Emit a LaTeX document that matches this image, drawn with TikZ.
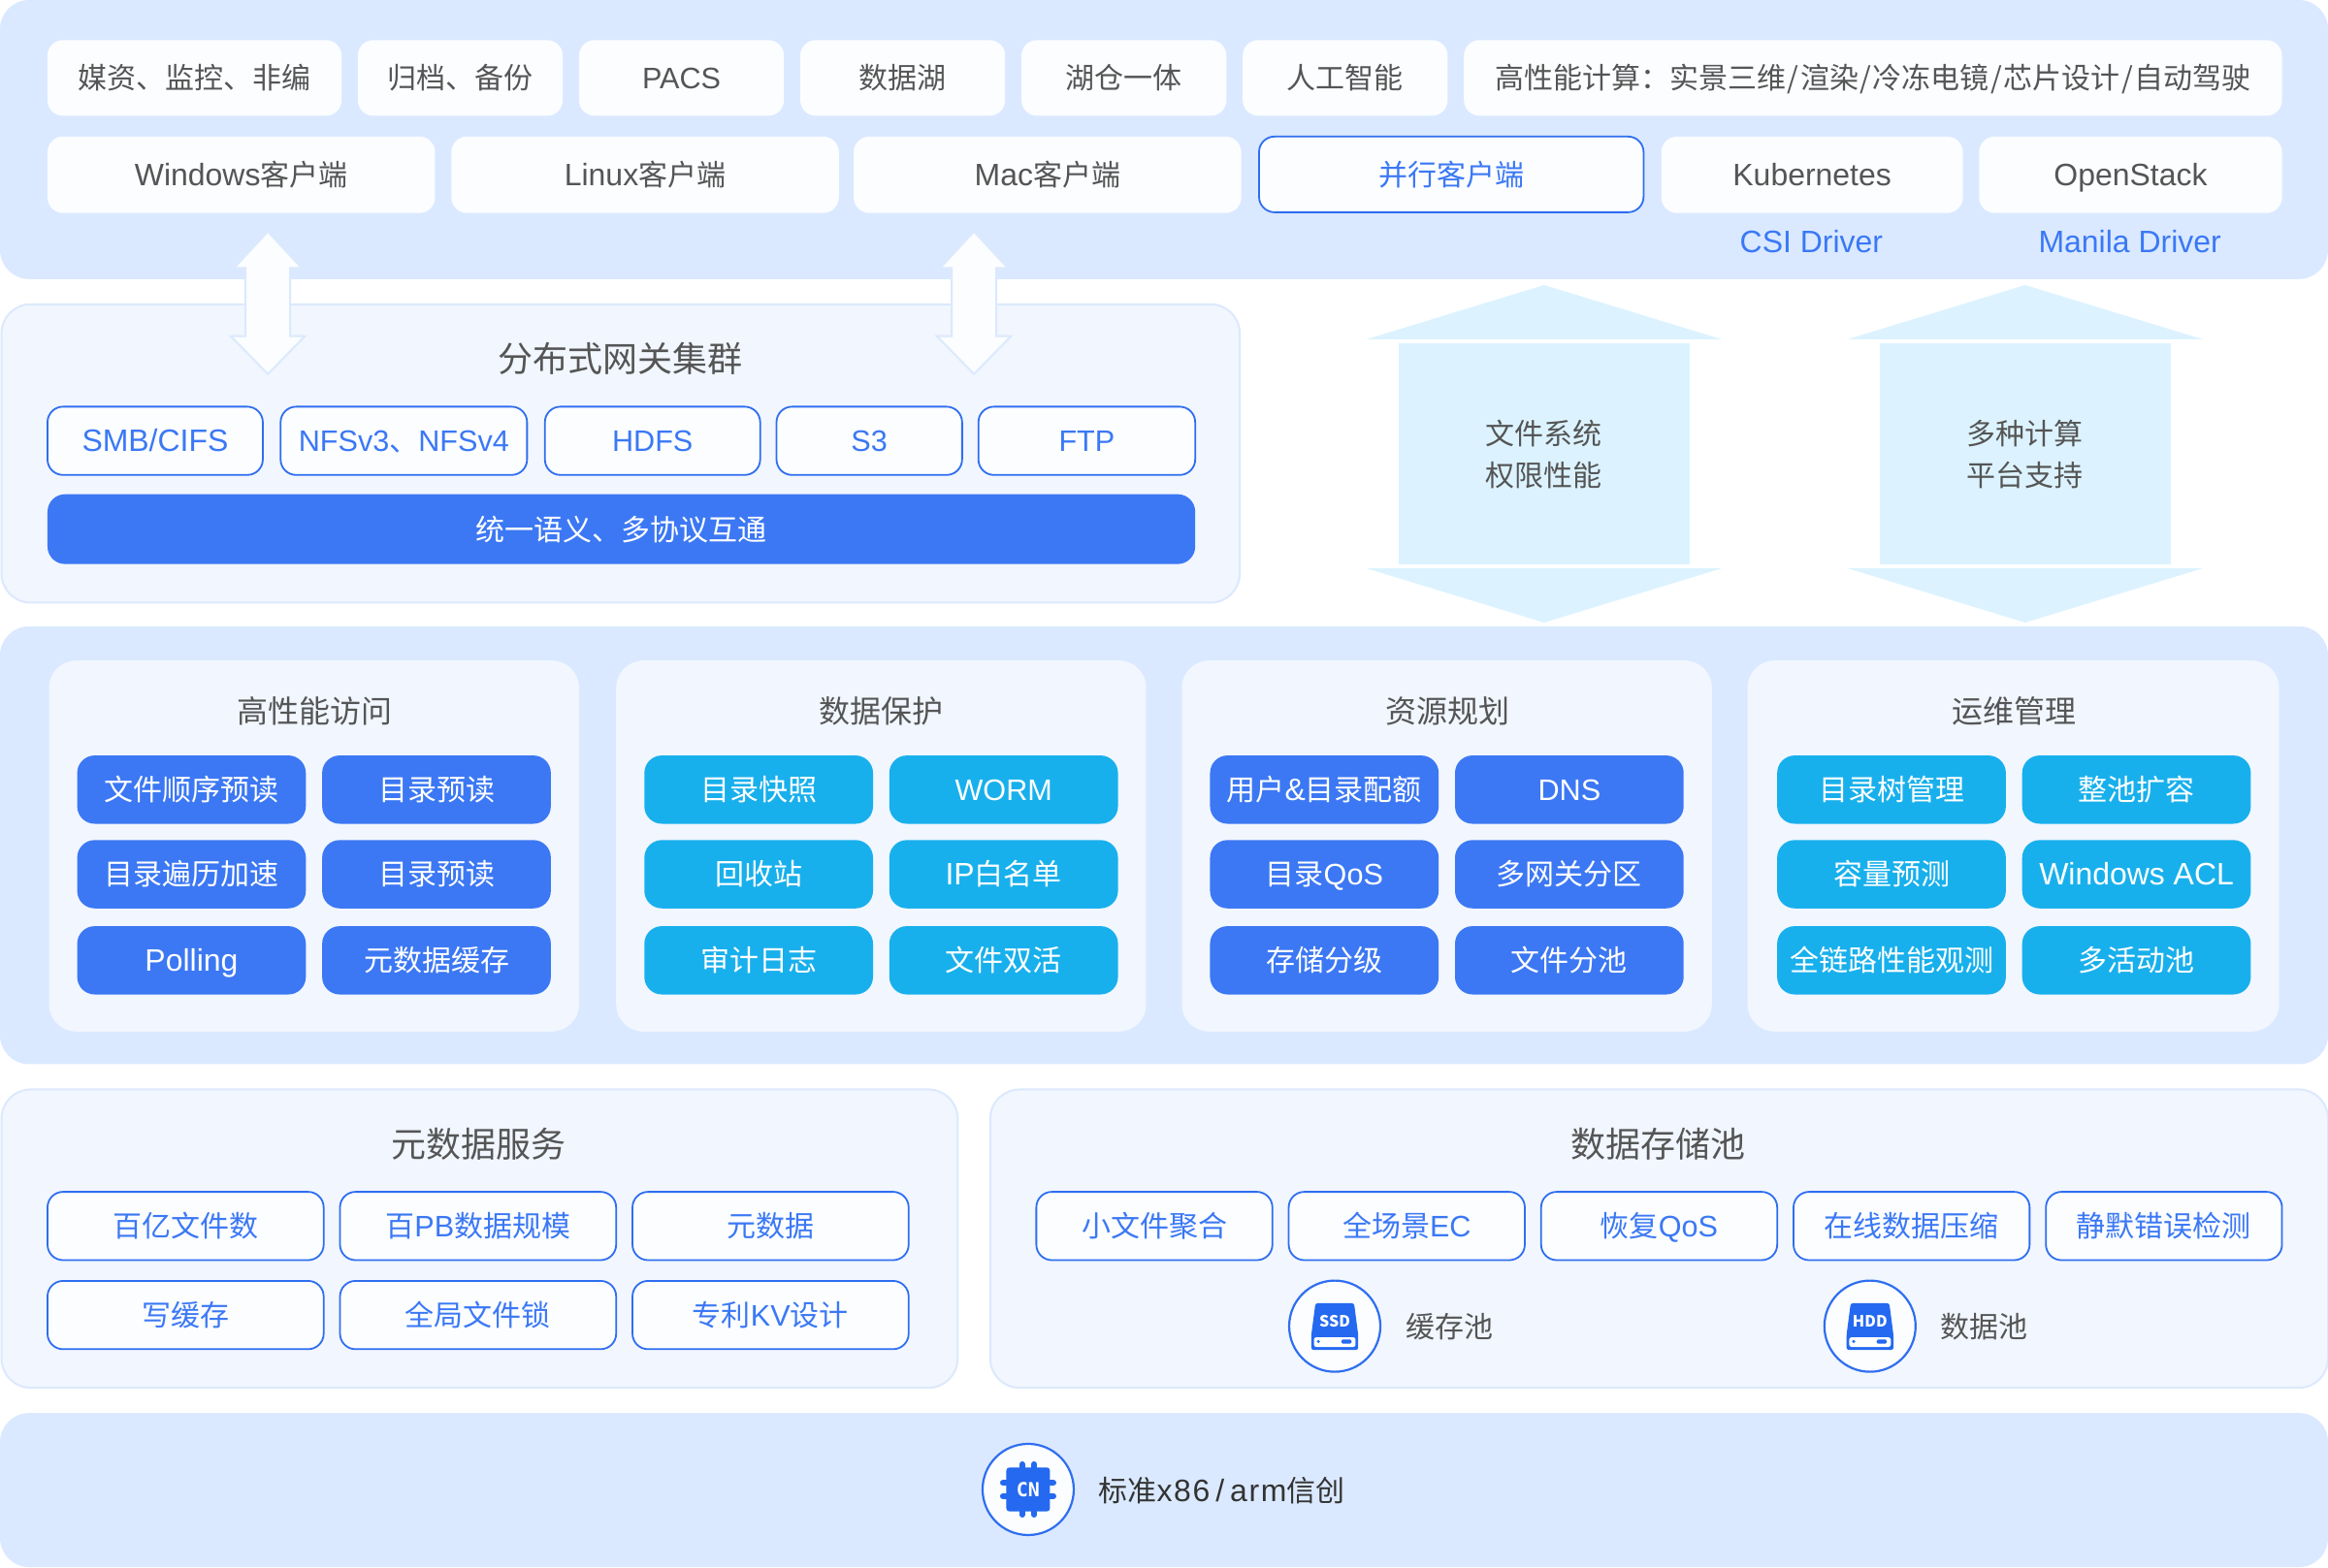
\documentclass[tikz,border=0pt]{standalone}
\usepackage{fontspec}
\setmainfont{Noto Sans CJK SC}
\newfontfamily\latfont[Scale=1.065]{Liberation Sans}
\newfontfamily\capfont[Scale=1.02]{Liberation Sans}
\newfontfamily\latwide[Scale=1.065,LetterSpace=5]{Liberation Sans}
\newfontfamily\cnfont{DejaVu Sans Mono}
\newcommand{\la}[1]{{\latfont #1}}
\newcommand{\lc}[1]{{\capfont #1}}
\newcommand{\slashgap}{\kern0.75pt/\kern0.75pt}
\usetikzlibrary{calc}
\definecolor{panelbg}{HTML}{DAE9FF}
\definecolor{lightbg}{HTML}{F1F6FF}
\definecolor{paleline}{HTML}{DCE9FD}
\definecolor{mainblue}{HTML}{3C78F4}
\definecolor{linkblue}{HTML}{3B78F5}
\definecolor{edgeblue}{HTML}{2F6EF0}
\definecolor{iconblue}{HTML}{2469F0}
\definecolor{skyblue}{HTML}{18B0EC}
\definecolor{palesky}{HTML}{DCF3FF}
\definecolor{graytext}{HTML}{555555}
\definecolor{darktext}{HTML}{333333}
\definecolor{softwhite}{HTML}{FBFDFF}
\def\U{0.76531}
\newcommand{\bx}[7]{%
  \pgfmathsetmacro\bxW{(#5-#3)*\U}\pgfmathsetmacro\bxH{(#6-#4)*\U}%
  \pgfmathsetmacro\bxX{(#3+#5)/2}\pgfmathsetmacro\bxY{(#4+#6)/2}%
  \node[#2,minimum width=\bxW pt,minimum height=\bxH pt] (#1) at (\bxX,\bxY) {#7};}
\newcommand{\fs}[1]{\fontsize{#1}{#1}\selectfont}
\tikzset{
  x=0.76531pt,y=-0.76531pt,
  box/.style={rectangle,inner sep=0pt,outer sep=0pt,align=center,font=\fs{15},text height=13.2pt,text depth=1.8pt},
  panel/.style={box,fill=panelbg,rounded corners=15pt},
  softpanel/.style={box,fill=lightbg,draw=paleline,line width=1pt,rounded corners=15pt},
  card/.style={box,fill=lightbg,rounded corners=14pt},
  whitebox/.style={box,fill=softwhite,text=graytext,rounded corners=8pt},
  linebox/.style={box,fill=softwhite,draw=edgeblue,line width=0.9pt,text=linkblue,rounded corners=8pt},
  bluebtn/.style={box,fill=mainblue,text=white,rounded corners=9pt},
  skybtn/.style={box,fill=skyblue,text=white,rounded corners=9pt},
  title/.style={inner sep=0pt,outer sep=0pt,text=graytext,font=\fs{18}},
  cardtitle/.style={inner sep=0pt,outer sep=0pt,text=graytext,font=\fs{16}},
  label/.style={inner sep=0pt,outer sep=0pt,font=\fs{15},text height=13.2pt,text depth=1.8pt},
  bodyarrow/.style={rectangle,inner sep=0pt,outer sep=0pt,fill=palesky,text=graytext,align=center,font=\fontsize{15}{21.4}\selectfont},
  arrowhead/.style={fill=palesky},
  whitearrow/.style={fill=softwhite,draw=paleline,line width=1pt,line join=miter},
  iconring/.style={circle,fill=softwhite,draw=edgeblue,line width=1.1pt,inner sep=0pt,outer sep=0pt,minimum size=47pt},
}
\newcommand{\diskicon}[2]{%
  \begin{scope}[shift={(#1.center)}]
    \fill[iconblue,rounded corners=1.2pt] (-13,-15.5) -- (13,-15.5) -- (15.8,6) -- (15.8,16) -- (-15.8,16) -- (-15.8,6) -- cycle;
    \fill[white,rounded corners=1.2pt] (-14,7.5) rectangle (14,14);
    \fill[iconblue] (-11,10.3) circle[radius=1.1];
    \fill[iconblue,rounded corners=0.7pt] (4.5,9) rectangle (11.3,11.8);
    \node[inner sep=0pt,text=white,font=\fs{8}\bfseries] (#1txt) at (0,-3.5) {#2};
  \end{scope}}
\newcommand{\whitedouble}[1]{%
  \draw[whitearrow,shift={(#1)}] (0,-48) -- (22.7,-23.5) -- (15,-23.5) -- (15,22.5) -- (25,22.5) -- (0,48) -- (-25,22.5) -- (-15,22.5) -- (-15,-23.5) -- (-22.7,-23.5) -- cycle;}
\newcommand{\skyheads}[1]{%
  \fill[arrowhead] ($(#1.center)+(-119.5,-77.3)$) -- ($(#1.center)+(0,-113.8)$) -- ($(#1.center)+(119.5,-77.3)$) -- cycle;
  \fill[arrowhead] ($(#1.center)+(-119.5,77.1)$) -- ($(#1.center)+(0,113.6)$) -- ($(#1.center)+(119.5,77.1)$) -- cycle;}
\begin{document}
\begin{tikzpicture}
\useasboundingbox (0,0) rectangle (1568,1055.8);
\fill[white] (0,0) rectangle (1568,1055.8);

% panels
\bx{toppanel}{panel}{0}{0}{1568}{188}{}
\bx{gwpanel}{softpanel}{1}{205}{835}{406}{}
\bx{midpanel}{panel}{0}{422}{1568}{717}{}
\bx{metapanel}{softpanel}{1}{734}{645}{935}{}
\bx{poolpanel}{softpanel}{667}{734}{1568}{935}{}
\bx{basepanel}{panel}{0}{952}{1568}{1055.8}{}

% top rows
\bx{t1}{whitebox}{32}{27}{230}{78}{媒资、监控、非编}
\bx{t2}{whitebox}{241}{27}{379}{78}{归档、备份}
\bx{t3}{whitebox}{390}{27}{528}{78}{\lc{PACS}}
\bx{t4}{whitebox}{539}{27}{677}{78}{数据湖}
\bx{t5}{whitebox}{688}{27}{826}{78}{湖仓一体}
\bx{t6}{whitebox}{837}{27}{975}{78}{人工智能}
\bx{t7}{whitebox}{986}{27}{1537}{78}{高性能计算：实景三维\slashgap 渲染\slashgap 冷冻电镜\slashgap 芯片设计\slashgap 自动驾驶}
\bx{c1}{whitebox}{32}{92}{293}{143.5}{\la{Windows}客户端}
\bx{c2}{whitebox}{304}{92}{565}{143.5}{\la{Linux}客户端}
\bx{c3}{whitebox}{575}{92}{836}{143.5}{\la{Mac}客户端}
\bx{c4}{linebox}{848}{92}{1107}{143}{并行客户端}
\bx{c5}{whitebox}{1119}{92}{1322}{143.5}{\la{Kubernetes}}
\bx{c6}{whitebox}{1333}{92}{1537}{143.5}{\la{OpenStack}}
\node[label,text=linkblue] (csi) at (1220,163) {\la{CSI Driver}};
\node[label,text=linkblue] (manila) at (1434.5,163) {\la{Manila Driver}};

% gateway
\node[title] (gwtitle) at (418,241.5) {分布式网关集群};
\bx{p1}{linebox}{32}{274}{177}{320}{\la{SMB/CIFS}}
\bx{p2}{linebox}{189}{274}{355}{320}{\lc{NFSv3}、\lc{NFSv4}}
\bx{p3}{linebox}{367}{274}{512}{320}{\lc{HDFS}}
\bx{p4}{linebox}{523}{274}{648}{320}{\lc{S3}}
\bx{p5}{linebox}{659}{274}{805}{320}{\lc{FTP}}
\bx{gwbar}{bluebtn}{32}{333}{805}{380}{统一语义、多协议互通}

% white double arrows
\coordinate (wa1) at (180.4,204);
\coordinate (wa2) at (656,204);
\whitedouble{wa1}
\whitedouble{wa2}

% sky arrows
\bx{fsarrow}{bodyarrow}{942}{231.4}{1138}{380.3}{\begin{tabular}{@{}c@{}}\rule{0pt}{18.2pt}文件系统\\[0pt]权限性能\end{tabular}}
\bx{hparrow}{bodyarrow}{1266}{231.4}{1462}{380.3}{\begin{tabular}{@{}c@{}}\rule{0pt}{18.2pt}多种计算\\[0pt]平台支持\end{tabular}}
\skyheads{fsarrow}
\skyheads{hparrow}

% function cards
\bx{card1}{card}{33}{445}{390}{695}{}
\bx{card2}{card}{415}{445}{772}{695}{}
\bx{card3}{card}{796}{445}{1153}{695}{}
\bx{card4}{card}{1177}{445}{1535}{695}{}
\node[cardtitle] (h1) at (212,479) {高性能访问};
\node[cardtitle] (h2) at (593.5,479) {数据保护};
\node[cardtitle] (h3) at (975,479) {资源规划};
\node[cardtitle] (h4) at (1356.5,479) {运维管理};

\bx{a1}{bluebtn}{52}{509}{206}{555}{文件顺序预读}
\bx{a2}{bluebtn}{217}{509}{371}{555}{目录预读}
\bx{a3}{bluebtn}{52}{566}{206}{612}{目录遍历加速}
\bx{a4}{bluebtn}{217}{566}{371}{612}{目录预读}
\bx{a5}{bluebtn}{52}{624}{206}{670}{\la{Polling}}
\bx{a6}{bluebtn}{217}{624}{371}{670}{元数据缓存}

\bx{b1}{skybtn}{434}{509}{588}{555}{目录快照}
\bx{b2}{skybtn}{599}{509}{753}{555}{\lc{WORM}}
\bx{b3}{skybtn}{434}{566}{588}{612}{回收站}
\bx{b4}{skybtn}{599}{566}{753}{612}{\la{IP}白名单}
\bx{b5}{skybtn}{434}{624}{588}{670}{审计日志}
\bx{b6}{skybtn}{599}{624}{753}{670}{文件双活}

\bx{d1}{bluebtn}{815}{509}{969}{555}{用户\la{\&}目录配额}
\bx{d2}{bluebtn}{980}{509}{1134}{555}{\lc{DNS}}
\bx{d3}{bluebtn}{815}{566}{969}{612}{目录\lc{QoS}}
\bx{d4}{bluebtn}{980}{566}{1134}{612}{多网关分区}
\bx{d5}{bluebtn}{815}{624}{969}{670}{存储分级}
\bx{d6}{bluebtn}{980}{624}{1134}{670}{文件分池}

\bx{e1}{skybtn}{1197}{509}{1351}{555}{目录树管理}
\bx{e2}{skybtn}{1362}{509}{1516}{555}{整池扩容}
\bx{e3}{skybtn}{1197}{566}{1351}{612}{容量预测}
\bx{e4}{skybtn}{1362}{566}{1516}{612}{\la{Windows ACL}}
\bx{e5}{skybtn}{1197}{624}{1351}{670}{全链路性能观测}
\bx{e6}{skybtn}{1362}{624}{1516}{670}{多活动池}

% metadata
\node[title] (mtitle) at (322.5,771) {元数据服务};
\bx{m1}{linebox}{32}{803}{218}{849}{百亿文件数}
\bx{m2}{linebox}{229}{803}{415}{849}{百\lc{PB}数据规模}
\bx{m3}{linebox}{426}{803}{612}{849}{元数据}
\bx{m4}{linebox}{32}{863}{218}{909}{写缓存}
\bx{m5}{linebox}{229}{863}{415}{909}{全局文件锁}
\bx{m6}{linebox}{426}{863}{612}{909}{专利\lc{KV}设计}

% pool
\node[title] (ptitle) at (1117,771) {数据存储池};
\bx{s1}{linebox}{698}{803}{857}{849}{小文件聚合}
\bx{s2}{linebox}{868}{803}{1027}{849}{全场景\lc{EC}}
\bx{s3}{linebox}{1038}{803}{1197}{849}{恢复\lc{QoS}}
\bx{s4}{linebox}{1208}{803}{1367}{849}{在线数据压缩}
\bx{s5}{linebox}{1378}{803}{1537}{849}{静默错误检测}
\node[iconring] (ssd) at (899,893.5) {};
\diskicon{ssd}{SSD}
\node[label,text=graytext,anchor=west] (ssdl) at (947,893.5) {缓存池};
\node[iconring] (hdd) at (1259.5,893.5) {};
\diskicon{hdd}{HDD}
\node[label,text=graytext,anchor=west] (hddl) at (1307,893.5) {数据池};

% base
\node[iconring] (cpu) at (692.5,1003.5) {};
\begin{scope}[shift={(cpu.center)}]
  \foreach \q in {-4.5,4.5}{
    \draw[iconblue,line width=3pt,line cap=round] (-17,\q) -- (17,\q);
  }
  \foreach \q in {-4,4}{
    \draw[iconblue,line width=3pt,line cap=round] (\q,-17) -- (\q,17);
  }
  \fill[iconblue,rounded corners=1.6pt] (-14.7,-14.8) rectangle (14.7,14.8);
  \node[inner sep=0pt,text=white,font=\cnfont\fs{10}\bfseries] (cn) at (0,0) {CN};
\end{scope}
\node[label,text=darktext,anchor=west] (basel) at (740,1004.5) {标准{\latwide x86\kern3pt/\kern3pt arm}信创};
\end{tikzpicture}
\end{document}
